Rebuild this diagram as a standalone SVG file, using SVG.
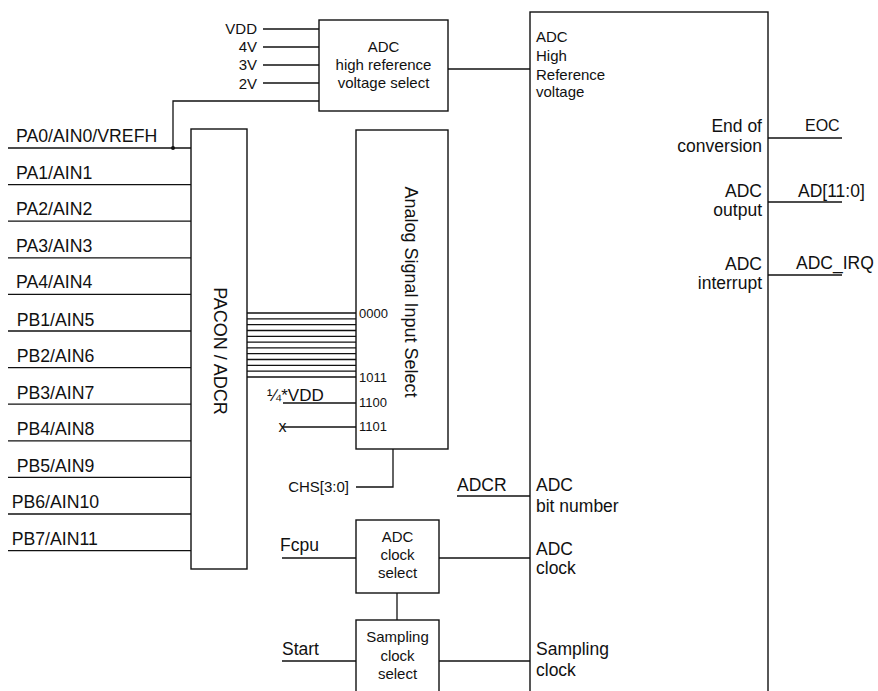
<svg xmlns="http://www.w3.org/2000/svg" width="878" height="691" viewBox="0 0 878 691">
<style>
text{font-family:"Liberation Sans",Arial,sans-serif;fill:#111}
.box{fill:#fff;stroke:#111;stroke-width:1.4}
.w{fill:none;stroke:#111;stroke-width:1.3}
.pin{font-size:17.7px}
.s15{font-size:15px}
.s17{font-size:17.5px}
.s13{font-size:13px}
.m{text-anchor:middle}
.e{text-anchor:end}
</style>
<rect width="878" height="691" fill="#fff"/>

<g id="connectors">
  <!-- reference voltage inputs -->
  <line class="w" x1="263" y1="29" x2="319" y2="29"/>
  <line class="w" x1="263" y1="47" x2="319" y2="47"/>
  <line class="w" x1="263" y1="65" x2="319" y2="65"/>
  <line class="w" x1="263" y1="83" x2="319" y2="83"/>
  <polyline class="w" points="173,148 173,101 319,101"/>
  <circle cx="173" cy="148" r="2" fill="#111"/>
  <line class="w" x1="448" y1="69" x2="530" y2="69"/>
  <!-- pin lines -->
  <line class="w" x1="8" y1="148" x2="191" y2="148"/>
  <line class="w" x1="8" y1="184.6" x2="191" y2="184.6"/>
  <line class="w" x1="8" y1="221.2" x2="191" y2="221.2"/>
  <line class="w" x1="8" y1="257.8" x2="191" y2="257.8"/>
  <line class="w" x1="8" y1="294.4" x2="191" y2="294.4"/>
  <line class="w" x1="8" y1="331" x2="191" y2="331"/>
  <line class="w" x1="8" y1="367.6" x2="191" y2="367.6"/>
  <line class="w" x1="8" y1="404.2" x2="191" y2="404.2"/>
  <line class="w" x1="8" y1="440.8" x2="191" y2="440.8"/>
  <line class="w" x1="8" y1="477.4" x2="191" y2="477.4"/>
  <line class="w" x1="8" y1="514" x2="191" y2="514"/>
  <line class="w" x1="8" y1="550.6" x2="191" y2="550.6"/>
  <!-- bus -->
  <g class="w">
    <line x1="247" y1="313" x2="356" y2="313"/>
    <line x1="247" y1="318.8" x2="356" y2="318.8"/>
    <line x1="247" y1="324.6" x2="356" y2="324.6"/>
    <line x1="247" y1="330.5" x2="356" y2="330.5"/>
    <line x1="247" y1="336.3" x2="356" y2="336.3"/>
    <line x1="247" y1="342.1" x2="356" y2="342.1"/>
    <line x1="247" y1="347.9" x2="356" y2="347.9"/>
    <line x1="247" y1="353.7" x2="356" y2="353.7"/>
    <line x1="247" y1="359.5" x2="356" y2="359.5"/>
    <line x1="247" y1="365.4" x2="356" y2="365.4"/>
    <line x1="247" y1="371.2" x2="356" y2="371.2"/>
    <line x1="247" y1="377" x2="356" y2="377"/>
  </g>
  <line class="w" x1="283" y1="403" x2="356" y2="403"/>
  <line class="w" x1="282" y1="427" x2="356" y2="427"/>
  <line x1="374" y1="328" x2="374" y2="352" stroke="#111" stroke-width="1" stroke-dasharray="1 2"/>
  <polyline class="w" points="356,487 393,487 393,449"/>
  <!-- right side -->
  <line class="w" x1="768" y1="138" x2="842" y2="138"/>
  <line class="w" x1="768" y1="202" x2="842" y2="202"/>
  <line class="w" x1="768" y1="275" x2="842" y2="275"/>
  <line class="w" x1="457" y1="496" x2="530" y2="496"/>
  <line class="w" x1="282" y1="558" x2="356" y2="558"/>
  <line class="w" x1="439" y1="558" x2="530" y2="558"/>
  <line class="w" x1="397" y1="593" x2="397" y2="620"/>
  <line class="w" x1="282" y1="661" x2="356" y2="661"/>
  <line class="w" x1="439" y1="661" x2="530" y2="661"/>
</g>

<g id="ref-labels" class="s15 e">
  <text x="257" y="34">VDD</text>
  <text x="257" y="52">4V</text>
  <text x="257" y="70">3V</text>
  <text x="257" y="88.5">2V</text>
</g>

<g id="ref-select">
  <rect class="box" x="319" y="20" width="129" height="91"/>
  <text class="s15 m" x="383.5" y="52">ADC</text>
  <text class="s15 m" x="383.5" y="70">high reference</text>
  <text class="s15 m" x="383.5" y="88">voltage select</text>
</g>

<g id="pin-labels" class="pin">
  <text x="16" y="142">PA0/AIN0/VREFH</text>
  <text x="16" y="178.6">PA1/AIN1</text>
  <text x="16" y="215.2">PA2/AIN2</text>
  <text x="16" y="251.8">PA3/AIN3</text>
  <text x="16" y="288.4">PA4/AIN4</text>
  <text x="16.7" y="325.5">PB1/AIN5</text>
  <text x="16.7" y="362">PB2/AIN6</text>
  <text x="16.7" y="398.6">PB3/AIN7</text>
  <text x="16.7" y="435.2">PB4/AIN8</text>
  <text x="16.7" y="471.8">PB5/AIN9</text>
  <text x="11.7" y="508.4">PB6/AIN10</text>
  <text x="11.7" y="545">PB7/AIN11</text>
</g>

<g id="pacon">
  <rect class="box" x="191" y="129" width="56" height="440"/>
  <text class="m" style="font-size:18px" transform="translate(214,351) rotate(90)">PACON / ADCR</text>
</g>

<g id="analog-select">
  <rect class="box" x="356" y="130" width="92" height="319"/>
  <text class="m" style="font-size:18px" transform="translate(405,292) rotate(90)">Analog Signal Input Select</text>
  <text class="s13" x="359" y="318">0000</text>
  <text class="s13" x="359" y="382">1011</text>
  <text class="s13" x="359" y="407">1100</text>
  <text class="s13" x="359" y="431">1101</text>
</g>

<g id="misc-labels">
  <text x="267" y="401" style="font-size:17px">¼*VDD</text>
  <text x="282.5" y="432" class="m" style="font-size:16px">x</text>
  <text x="349" y="492" class="s15 e">CHS[3:0]</text>
  <text x="457" y="491" class="s17">ADCR</text>
  <text x="280" y="551" class="s17">Fcpu</text>
  <text x="282" y="655" class="s17">Start</text>
  <text x="805" y="131" style="font-size:16px">EOC</text>
  <text x="798" y="196.5" class="s17">AD[11:0]</text>
  <text x="796" y="268.5" class="s17">ADC_IRQ</text>
</g>

<g id="adc-core">
  <rect class="box" x="530" y="12" width="238" height="690"/>
  <text class="s15" x="536" y="42">ADC</text>
  <text class="s15" x="536" y="61">High</text>
  <text class="s15" x="536" y="80">Reference</text>
  <text class="s15" x="536" y="97">voltage</text>
  <text class="s17 e" x="762" y="132">End of</text>
  <text class="s17 e" x="762" y="152">conversion</text>
  <text class="s17 e" x="762" y="197">ADC</text>
  <text class="s17 e" x="762" y="215.5">output</text>
  <text class="s17 e" x="762" y="270">ADC</text>
  <text class="s17 e" x="762" y="288.5">interrupt</text>
  <text class="s17" x="536" y="491">ADC</text>
  <text class="s17" x="536" y="512">bit number</text>
  <text class="s17" x="536" y="555">ADC</text>
  <text class="s17" x="536" y="573.5">clock</text>
  <text class="s17" x="536" y="655">Sampling</text>
  <text class="s17" x="536" y="676">clock</text>
</g>

<g id="adc-clock-select">
  <rect class="box" x="356" y="520" width="83" height="73"/>
  <text class="s15 m" x="397.5" y="542">ADC</text>
  <text class="s15 m" x="397.5" y="560">clock</text>
  <text class="s15 m" x="397.5" y="578">select</text>
</g>

<g id="sampling-clock-select">
  <rect class="box" x="356" y="620" width="83" height="80"/>
  <text class="s15 m" x="397.5" y="642">Sampling</text>
  <text class="s15 m" x="397.5" y="661">clock</text>
  <text class="s15 m" x="397.5" y="679">select</text>
</g>
</svg>
